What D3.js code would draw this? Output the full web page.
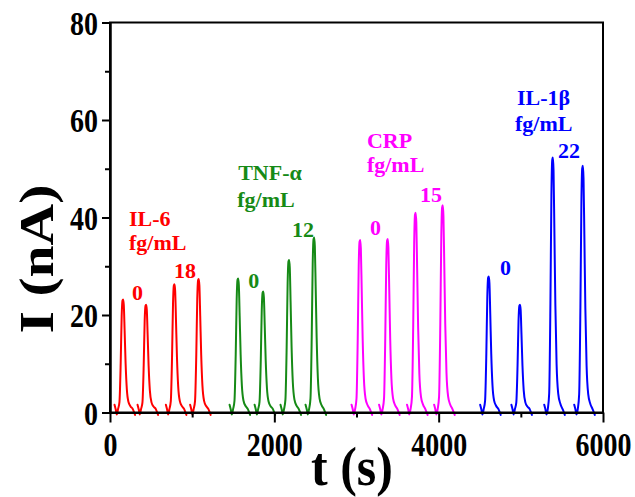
<!DOCTYPE html>
<html>
<head>
<meta charset="utf-8">
<script src="https://cdn.jsdelivr.net/npm/d3@7"></script>
<style>
  html, body { margin: 0; padding: 0; background: #fff; }
  svg { display: block; }
  text { font-family: "Liberation Serif", "Times New Roman", serif; font-weight: bold; }
</style>
</head>
<body>
<svg id="chart" width="635" height="497"></svg>
<script>
// ---- data ----
const series = ["IL-6", "TNF-α", "CRP", "IL-1β"];
const il6Times  = [160, 440, 785, 1080];
const il6Peaks  = [23.2, 22.1, 26.3, 27.4];
const tnfTimes  = [1560, 1865, 2180, 2485];
const tnfPeaks  = [27.5, 24.8, 31.3, 35.9];
const crpTimes  = [3045, 3380, 3720, 4050];
const crpPeaks  = [35.4, 35.6, 41.0, 42.5];
const il1bTimes = [4610, 4990, 5390, 5755];
const il1bPeaks = [27.9, 22.1, 52.3, 50.6];

// single-peak profile: time offset (s), fraction of peak, baseline offset (nA)
const shapeDt   = [-105, -90, -78, -62, -45, -30, -18, -8, 0, 8, 18, 30, 45, 65, 90, 118, 132, 145];
const shapeFrac = [0, 0, 0, 0, 0.06, 0.42, 0.85, 0.99, 1, 0.95, 0.72, 0.42, 0.18, 0.06, 0.02, 0, 0, 0];
const shapeOff  = [1.6, 0.6, -0.4, 0.7, 0.8, 0.5, 0.1, 0, 0, 0, 0.2, 0.5, 0.7, 0.8, 0.8, 0.7, 0.1, -0.5];

const xTicks = [0, 2000, 4000, 6000];
const xMinor = [1000, 3000, 5000];
const yTicks = [0, 20, 40, 60, 80];
const yMinor = [10, 30, 50, 70];

// annotations: text, t, value
const annText = ["IL-6", "fg/mL", "0", "18",
                 "TNF-α", "fg/mL", "0", "12",
                 "CRP", "fg/mL", "0", "15",
                 "IL-1β", "fg/mL", "0", "22"];
const annT = [231, 231, 268, 779,
              1560, 1548, 1682, 2215,
              3127, 3127, 3164, 3773,
              4953, 4929, 4746, 5452];
const annV = [38.3, 33.3, 23.1, 27.6,
              47.6, 42.2, 25.5, 36.0,
              54.3, 49.3, 36.4, 43.2,
              63.0, 57.7, 28.2, 52.3];

const colors = ["#ff0000", "#168a16", "#ff00ff", "#0000ff"];

// ---- chart ----
const svg = d3.select("#chart");
const x = d3.scaleLinear().domain([0, 6000]).range([110, 603]);
const y = d3.scaleLinear().domain([0, 80]).range([412.5, 22.5]);

const times = [il6Times, tnfTimes, crpTimes, il1bTimes];
const peaks = [il6Peaks, tnfPeaks, crpPeaks, il1bPeaks];

const line = d3.line()
  .x(d => x(d[0]))
  .y(d => y(d[1]))
  .curve(d3.curveMonotoneX);

series.forEach((s, si) => {
  times[si].forEach((tp, pi) => {
    const h = peaks[si][pi];
    const pts = shapeDt.map((dt, k) => [tp + dt, shapeFrac[k] * h + shapeOff[k] * (1 - shapeFrac[k])]);
    svg.append("path")
      .attr("d", line(pts))
      .attr("fill", "none")
      .attr("stroke", colors[si])
      .attr("stroke-width", 2)
      .attr("stroke-linejoin", "round")
      .attr("stroke-linecap", "round");
  });
});

// frame
svg.append("rect")
  .attr("x", x(0)).attr("y", y(80))
  .attr("width", x(6000) - x(0)).attr("height", y(0) - y(80))
  .attr("fill", "none").attr("stroke", "#000").attr("stroke-width", 2);

// axes
const xAxis = svg.append("g").attr("transform", `translate(0,${y(0)})`)
  .call(d3.axisBottom(x).tickValues(xTicks).tickSize(10).tickSizeOuter(0).tickFormat(d3.format("d")));
const xAxisMinor = svg.append("g").attr("transform", `translate(0,${y(0)})`)
  .call(d3.axisBottom(x).tickValues(xMinor).tickSize(5).tickSizeOuter(0).tickFormat(""));
const yAxis = svg.append("g").attr("transform", `translate(${x(0)},0)`)
  .call(d3.axisLeft(y).tickValues(yTicks).tickSize(8).tickSizeOuter(0));
const yAxisMinor = svg.append("g").attr("transform", `translate(${x(0)},0)`)
  .call(d3.axisLeft(y).tickValues(yMinor).tickSize(5).tickSizeOuter(0).tickFormat(""));

[xAxis, xAxisMinor, yAxis, yAxisMinor].forEach(g => {
  g.select(".domain").attr("stroke", "#000").attr("stroke-width", 2);
  g.selectAll(".tick line").attr("stroke", "#000").attr("stroke-width", 2);
});
xAxis.selectAll(".tick text")
  .attr("font-size", 28).attr("fill", "#000")
  .attr("font-family", "Liberation Serif, Times New Roman, serif").attr("font-weight", "bold")
  .attr("dy", null).attr("y", 36.5)
  .attr("transform", "scale(1,1.2)");
yAxis.selectAll(".tick text")
  .attr("font-size", 28).attr("fill", "#000")
  .attr("font-family", "Liberation Serif, Times New Roman, serif").attr("font-weight", "bold")
  .attr("x", -12).attr("dy", "0.35em")
  .attr("transform", "scale(1,1.2)");

// axis titles
svg.append("text")
  .attr("transform", "translate(352,485) scale(1,1.1)")
  .attr("text-anchor", "middle")
  .attr("font-size", 50)
  .text("t (s)");
svg.append("text")
  .attr("transform", "translate(53,259) rotate(-90) scale(1.2,1)")
  .attr("text-anchor", "middle")
  .attr("font-size", 48)
  .text("I (nA)");

// annotations
annText.forEach((t, i) => {
  svg.append("text")
    .attr("x", x(annT[i])).attr("y", y(annV[i]))
    .attr("font-size", 22)
    .attr("fill", colors[Math.floor(i / 4)])
    .text(t);
});
</script>
</body>
</html>
